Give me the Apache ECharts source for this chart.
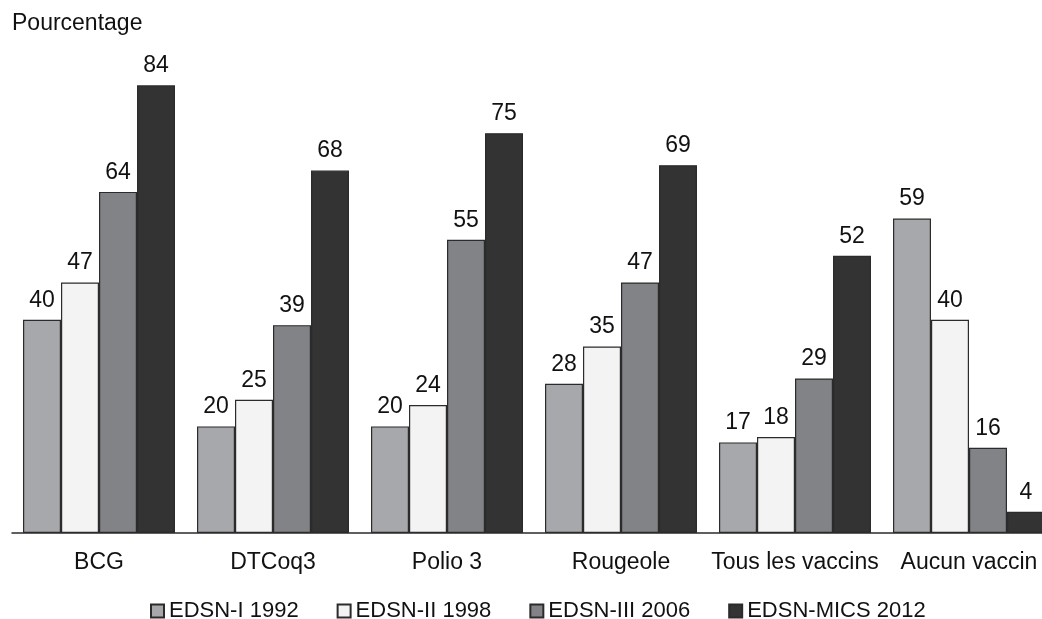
<!DOCTYPE html>
<html>
<head>
<meta charset="utf-8">
<style>
html,body{margin:0;padding:0;background:#fff;overflow:hidden;width:1042px;height:619px;}
#chart{width:1060px;height:619px;}
</style>
<script src="https://cdn.jsdelivr.net/npm/echarts@6/dist/echarts.min.js"></script>
</head>
<body>
<div id="chart"></div>
<script>
const categories = ['BCG', 'DTCoq3', 'Polio 3', 'Rougeole', 'Tous les vaccins', 'Aucun vaccin'];
const seriesNames = ['EDSN-I 1992', 'EDSN-II 1998', 'EDSN-III 2006', 'EDSN-MICS 2012'];
const edsn1992 = [40, 20, 20, 28, 17, 59];
const edsn1998 = [47, 25, 24, 35, 18, 40];
const edsn2006 = [64, 39, 55, 47, 29, 16];
const edsn2012 = [84, 68, 75, 69, 52, 4];
const yAxisTitle = 'Pourcentage';

const colors = ['#a7a8ab', '#f2f3f2', '#828387', '#333333'];
const values = [edsn1992, edsn1998, edsn2006, edsn2012];
const font = '"Liberation Sans", Arial, sans-serif';

const chart = echarts.init(document.getElementById('chart'));
chart.setOption({
  animation: false,
  backgroundColor: '#ffffff',
  textStyle: { fontFamily: font },
  graphic: [{
    type: 'text', left: 12, top: 12,
    style: { text: yAxisTitle, fontSize: 23, fontFamily: font, fill: '#111' }
  }],
  legend: {
    left: 145, top: 595,
    itemWidth: 13, itemHeight: 13, itemGap: 38,
    icon: 'rect',
    textStyle: { fontSize: 22, fontFamily: font, color: '#111' },
    data: seriesNames
  },
  grid: { left: 12, right: 4, top: 0, bottom: 86, containLabel: false },
  xAxis: {
    type: 'category', data: categories,
    axisLine: { lineStyle: { color: '#2b2b2b', width: 1.5 } },
    axisTick: { show: false },
    axisLabel: { fontSize: 23, fontFamily: font, color: '#111', margin: 18, interval: 0 }
  },
  yAxis: {
    type: 'value', min: 0, max: 100, show: false,
    splitLine: { show: false }
  },
  series: values.map((v, i) => ({
    name: seriesNames[i], type: 'bar', data: v,
    barWidth: 38, barGap: '0%',
    itemStyle: { color: colors[i], borderColor: '#2b2b2b', borderWidth: 1.2 },
    label: { show: true, position: 'top', distance: 8, fontSize: 23, fontFamily: font, color: '#111' }
  }))
});
</script>
</body>
</html>
